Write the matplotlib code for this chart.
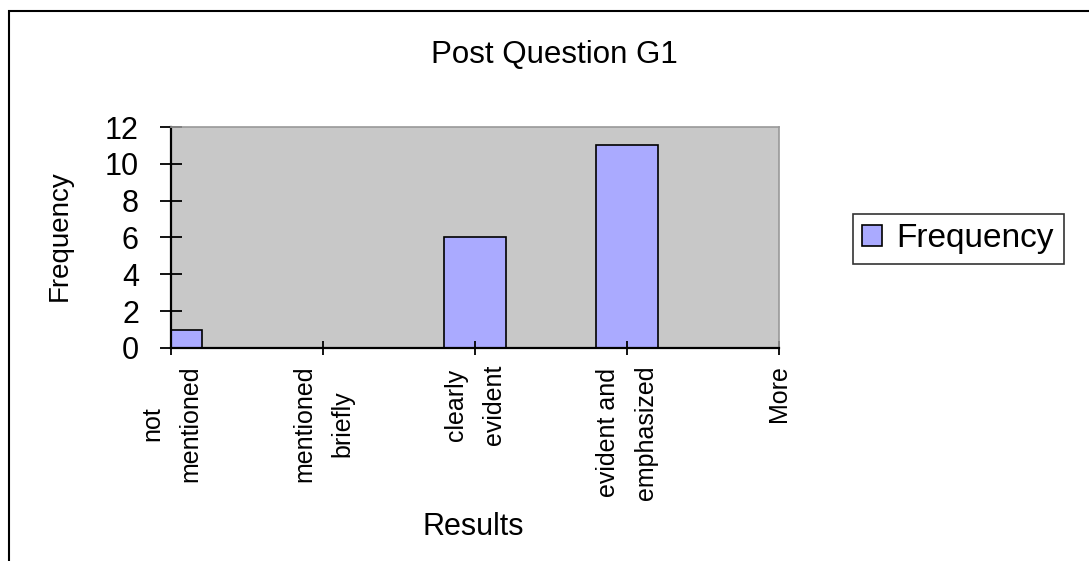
import matplotlib.pyplot as plt
from matplotlib.patches import Rectangle

# datos del histograma
categorias = ['not\nmentioned', 'mentioned\nbriefly', 'clearly\nevident',
              'evident and\nemphasized', 'More']
frecuencia = [1, 0, 6, 11, 0]
yticks = [0, 2, 4, 6, 8, 10, 12]

plt.rcParams['font.family'] = ['Liberation Sans', 'DejaVu Sans']

fig = plt.figure(figsize=(10.89, 5.61), dpi=100)
ax = fig.add_axes([0.157, 0.3797, 0.5583, 0.3939])

# Fondo gris del area de trazado
ax.set_facecolor('#C8C8C8')

x = list(range(len(categorias)))
ax.bar(x, frecuencia, width=0.41, color='#AAAAFF', edgecolor='black',
       linewidth=1.2, label='Frequency')

ax.set_xlim(0, len(categorias) - 1)
ax.set_ylim(0, 12)
ax.set_yticks(yticks)
ax.set_xticks(x)
ax.set_xticklabels(categorias, rotation=90, fontsize=18, va='top',
                   ha='center', multialignment='center', linespacing=1.75)
ax.tick_params(axis='y', direction='inout', length=16.5, width=1.3,
               pad=14.8, labelsize=22)
ax.tick_params(axis='x', direction='inout', length=9.4, width=1.3, pad=7.6)

# Ejes
for lado in ['left', 'bottom']:
    ax.spines[lado].set_color('black')
    ax.spines[lado].set_linewidth(1.6)
for lado in ['top', 'right']:
    ax.spines[lado].set_color('#999999')
    ax.spines[lado].set_linewidth(1.2)

# Titulo centrado sobre el area del grafico, no del trazado
fig.text(554 / 1089, 1 - 63 / 561, 'Post Question G1', ha='center',
         va='baseline', fontsize=22.5)
fig.text(60 / 1089, 1 - 236 / 561, 'Frequency', rotation=90, ha='center',
         va='center', fontsize=20)
fig.text(473 / 1089, 1 - 535 / 561, 'Results', ha='center', va='baseline',
         fontsize=22)

ley = ax.legend(loc='center left', bbox_to_anchor=(853 / 1089, 1 - 239 / 561),
                bbox_transform=fig.transFigure, fontsize=24, frameon=True,
                fancybox=False, handlelength=0.58, handleheight=0.58,
                handletextpad=0.45, borderpad=0.28, borderaxespad=0)
ley.get_frame().set_edgecolor('black')
ley.get_frame().set_linewidth(1.2)

# Borde exterior del grafico (recortado a la derecha y abajo)
borde = Rectangle((9 / 1089, -0.2), 1.2, 1.2 - 11 / 561, transform=fig.transFigure,
                  fill=False, edgecolor='black', linewidth=1.5)
fig.patches.append(borde)

fig.savefig('out.png', dpi=100)
